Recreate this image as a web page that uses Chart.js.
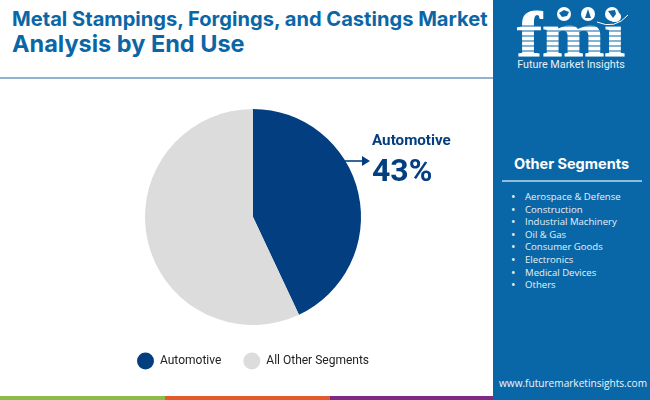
<!DOCTYPE html>
<html>
<head>
<meta charset="utf-8">
<script src="https://cdn.jsdelivr.net/npm/chart.js@4"></script>
<style>
  html, body { margin: 0; padding: 0; background: #fff; }
  body { width: 650px; height: 400px; position: relative; overflow: hidden; font-family: Roboto, sans-serif; }
  .title { position: absolute; left: 12px; top: 7px; color: #0b66a6; font-family: Inter, sans-serif; font-weight: 700; white-space: nowrap; }
  .title div:first-child { font-size: 20.1px; line-height: 24px; }
  .title div:last-child { font-size: 23.5px; line-height: 25px; }
  .rule { position: absolute; left: 0; top: 77px; width: 493px; height: 2px; background: #8fb3d1; }
  .sidebar { position: absolute; left: 493px; top: 0; width: 157px; height: 400px; background: #0a67a7; color: #fff; }
  .sidebar h3 { position: absolute; left: 0; width: 157px; top: 155px; margin: 0; text-align: center; font-family: Inter, sans-serif; font-size: 14.5px; font-weight: 700; }
  .sidebar hr { position: absolute; left: 9px; top: 180px; width: 140px; height: 2px; margin: 0; border: 0; background: #8fbcdc; }
  .sidebar ul { position: absolute; left: 32px; top: 191px; margin: 0; padding: 0; list-style: none; font-family: "Open Sans", sans-serif; font-size: 9.6px; line-height: 12.6px; color: #e6f0f7; white-space: nowrap; }
  .sidebar li::before { content: "\2022"; position: absolute; left: -14px; font-size: 12px; }
  .site { position: absolute; left: 6px; top: 376px; font-family: "Open Sans", sans-serif; font-size: 10.1px; color: #eef5fa; white-space: nowrap; }
  .logo { position: absolute; left: 0; top: 0; }
  #wrap { position: absolute; left: 0; top: 80px; width: 506px; height: 297px; }
  .callout { position: absolute; left: 372px; color: #033f80; white-space: nowrap; }
  #calloutName { top: 131px; font-size: 15.2px; font-weight: 700; }
  #calloutValue { top: 151px; font-size: 32px; font-weight: 700; }
  .arrow { position: absolute; left: 345px; top: 153px; }
  .strip { position: absolute; top: 396px; height: 4px; width: 165px; }
</style>
</head>
<body>
<div class="title"><div>Metal Stampings, Forgings, and Castings Market</div><div>Analysis by End Use</div></div>
<div class="rule"></div>
<div id="wrap"><canvas id="pie"></canvas></div>
<svg class="arrow" width="26" height="16"><line x1="0" y1="8" x2="18" y2="8" stroke="#033f80" stroke-width="1.6"/><polygon points="17,3 25,8 17,13" fill="#033f80"/></svg>
<div class="callout" id="calloutName"></div>
<div class="callout" id="calloutValue"></div>
<div class="strip" style="left:0;background:#8cbb47"></div>
<div class="strip" style="left:165px;background:#e15b2c"></div>
<div class="strip" style="left:330px;background:#7f2b84"></div>
<div class="sidebar">
  <svg class="logo" width="157" height="76">
    <text x="78" y="56" text-anchor="middle" font-family="Liberation Serif" font-weight="700" font-size="64" fill="#fff" stroke="#fff" stroke-width="1" textLength="108" lengthAdjust="spacingAndGlyphs">fmi</text>
    <g stroke="#0a67a7" stroke-width="1.2">
      <line x1="20" y1="26" x2="140" y2="26"/><line x1="20" y1="31" x2="140" y2="31"/>
      <line x1="20" y1="36" x2="140" y2="36"/><line x1="20" y1="41" x2="140" y2="41"/>
      <line x1="20" y1="46" x2="140" y2="46"/><line x1="20" y1="51" x2="140" y2="51"/>
    </g>
    <circle cx="71" cy="14" r="7" fill="#fff"/>
    <circle cx="95" cy="14" r="7" fill="#fff"/>
    <circle cx="119" cy="14" r="7" fill="#fff"/>
    <path d="M66 13l5-3 5 2-2 4-5 1z M92 18l3-9 3 9z M115 11l7-1 1 4-3 4z" fill="#0a67a7"/>
    <path d="M104 22q18 8 31-7" fill="none" stroke="#fff" stroke-width="1"/>
    <text x="78" y="68" text-anchor="middle" font-family="Roboto" font-size="10.8" fill="#e6f0f7">Future Market Insights</text>
  </svg>
  <h3>Other Segments</h3>
  <hr>
  <ul id="others"></ul>
  <div class="site">www.futuremarketinsights.com</div>
</div>
<script>
const categories = ['Automotive', 'All Other Segments'];
const shares = [43, 57];
const sliceColors = ['#033f80', '#dcdcdc'];
const otherSegments = ['Aerospace & Defense', 'Construction', 'Industrial Machinery', 'Oil & Gas', 'Consumer Goods', 'Electronics', 'Medical Devices', 'Others'];

document.getElementById('calloutName').textContent = categories[0];
document.getElementById('calloutValue').textContent = shares[0] + '%';
otherSegments.forEach(name => {
  const li = document.createElement('li');
  li.textContent = name;
  document.getElementById('others').appendChild(li);
});

new Chart(document.getElementById('pie'), {
  type: 'pie',
  data: {
    labels: categories,
    datasets: [{ data: shares, backgroundColor: sliceColors, borderWidth: 0 }]
  },
  options: {
    responsive: true,
    maintainAspectRatio: false,
    animation: false,
    radius: 108,
    layout: { padding: { top: 21, bottom: 0 } },
    plugins: {
      tooltip: { enabled: false },
      legend: {
        position: 'bottom',
        labels: {
          usePointStyle: true,
          pointStyle: 'circle',
          pointStyleWidth: 17,
          boxHeight: 18,
          padding: 22,
          color: '#222',
          font: { family: 'Roboto', size: 12 }
        }
      }
    }
  }
});
</script>
</body>
</html>
